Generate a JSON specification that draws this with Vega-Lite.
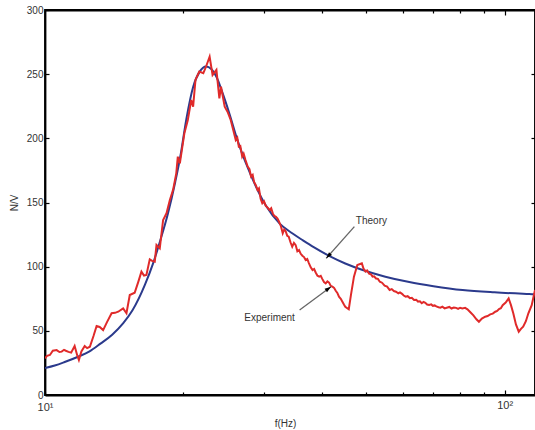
{
  "$schema": "https://vega.github.io/schema/vega-lite/v6.json",
  "autosize": {"type": "none"},
  "width": 490,
  "height": 385,
  "padding": {"left": 45, "top": 10, "right": 0, "bottom": 35},
  "background": "white",
  "config": {
    "view": {"stroke": "black", "strokeWidth": 1.8},
    "font": "Liberation Sans",
    "axis": {
      "domainColor": "black",
      "domainWidth": 1.8,
      "tickColor": "black",
      "tickWidth": 1.2,
      "grid": false,
      "labelFont": "Liberation Sans",
      "labelFontSize": 10,
      "labelColor": "#333333",
      "titleFont": "Liberation Sans",
      "titleFontSize": 10,
      "titleFontWeight": "normal",
      "titleColor": "#333333"
    }
  },
  "datasets": {
    "theory": [
      {"f": 10, "v": 21}, {"f": 10.5, "v": 23}, {"f": 11, "v": 25.5}, {"f": 11.8, "v": 29.8},
      {"f": 12.5, "v": 34}, {"f": 13.2, "v": 40}, {"f": 14, "v": 47}, {"f": 14.8, "v": 56},
      {"f": 15.5, "v": 66}, {"f": 16.5, "v": 86}, {"f": 17.2, "v": 103}, {"f": 17.8, "v": 120},
      {"f": 18.5, "v": 141}, {"f": 19.2, "v": 166}, {"f": 19.7, "v": 186}, {"f": 20.3, "v": 215},
      {"f": 21, "v": 240}, {"f": 21.7, "v": 252}, {"f": 22.4, "v": 256}, {"f": 23, "v": 254},
      {"f": 23.6, "v": 248}, {"f": 24.3, "v": 236}, {"f": 25.2, "v": 219}, {"f": 26.2, "v": 199},
      {"f": 27.4, "v": 180}, {"f": 28.8, "v": 162}, {"f": 30.3, "v": 147}, {"f": 32.4, "v": 133.5},
      {"f": 34.5, "v": 126}, {"f": 36.4, "v": 120.5}, {"f": 38.5, "v": 115}, {"f": 41.6, "v": 108.2},
      {"f": 45, "v": 102.5}, {"f": 49.1, "v": 97.4}, {"f": 55, "v": 92.2}, {"f": 62, "v": 88},
      {"f": 70, "v": 84.8}, {"f": 81, "v": 81.8}, {"f": 95, "v": 80}, {"f": 113, "v": 78.7},
      {"f": 116.4, "v": 78.5}
    ],
    "experiment": [
      {"f": 10.0, "v": 28.6}, {"f": 10.1, "v": 30.5}, {"f": 10.25, "v": 31.2}, {"f": 10.4, "v": 34.5},
      {"f": 10.6, "v": 35}, {"f": 10.75, "v": 33.5}, {"f": 10.87, "v": 33.8}, {"f": 11.0, "v": 35.2},
      {"f": 11.1, "v": 34.5}, {"f": 11.25, "v": 33.6}, {"f": 11.4, "v": 33}, {"f": 11.6, "v": 38.2},
      {"f": 11.75, "v": 31}, {"f": 11.85, "v": 27.3}, {"f": 12.0, "v": 34}, {"f": 12.2, "v": 38.2},
      {"f": 12.35, "v": 36.5}, {"f": 12.52, "v": 37.6}, {"f": 12.75, "v": 46}, {"f": 12.95, "v": 53.8},
      {"f": 13.15, "v": 53}, {"f": 13.38, "v": 50.6}, {"f": 13.65, "v": 57}, {"f": 13.96, "v": 63.7},
      {"f": 14.2, "v": 64}, {"f": 14.43, "v": 64.9}, {"f": 14.79, "v": 67.5}, {"f": 15.04, "v": 63.7},
      {"f": 15.29, "v": 77.9}, {"f": 15.67, "v": 79.7}, {"f": 15.95, "v": 88}, {"f": 16.21, "v": 96.1},
      {"f": 16.42, "v": 93}, {"f": 16.62, "v": 93.5}, {"f": 16.9, "v": 105.7}, {"f": 17.1, "v": 104.5},
      {"f": 17.33, "v": 103.9}, {"f": 17.48, "v": 116.9}, {"f": 17.77, "v": 114.3}, {"f": 18.07, "v": 136.4},
      {"f": 18.38, "v": 141.6}, {"f": 18.69, "v": 152}, {"f": 19.0, "v": 160}, {"f": 19.3, "v": 172.7},
      {"f": 19.45, "v": 185.7}, {"f": 19.65, "v": 180.5}, {"f": 20.1, "v": 203.9}, {"f": 20.45, "v": 214.3},
      {"f": 20.8, "v": 229.9}, {"f": 21.0, "v": 224.7}, {"f": 21.25, "v": 245.5}, {"f": 21.66, "v": 252},
      {"f": 22.1, "v": 250.7}, {"f": 22.4, "v": 255.8}, {"f": 22.81, "v": 263.6}, {"f": 23.15, "v": 249.4},
      {"f": 23.6, "v": 253.3}, {"f": 23.95, "v": 231.2}, {"f": 24.15, "v": 240.2}, {"f": 24.6, "v": 224.7},
      {"f": 24.95, "v": 220.8}, {"f": 25.35, "v": 214.3}, {"f": 25.7, "v": 206}, {"f": 26.0, "v": 198.7},
      {"f": 26.2, "v": 200.5}, {"f": 26.4, "v": 193.5}, {"f": 26.6, "v": 194}, {"f": 26.85, "v": 185.7},
      {"f": 27.05, "v": 188}, {"f": 27.3, "v": 183.1}, {"f": 27.6, "v": 178}, {"f": 27.85, "v": 176},
      {"f": 28.07, "v": 170.1}, {"f": 28.3, "v": 171.5}, {"f": 28.5, "v": 166}, {"f": 28.75, "v": 163.5},
      {"f": 29.0, "v": 159.7}, {"f": 29.2, "v": 161}, {"f": 29.45, "v": 153}, {"f": 29.7, "v": 149.4},
      {"f": 29.95, "v": 151}, {"f": 30.2, "v": 147.5}, {"f": 30.5, "v": 146}, {"f": 30.8, "v": 144.2},
      {"f": 31.05, "v": 145.5}, {"f": 31.3, "v": 141.5}, {"f": 31.55, "v": 139.5}, {"f": 31.8, "v": 138.9},
      {"f": 32.05, "v": 137.5}, {"f": 32.3, "v": 135}, {"f": 32.6, "v": 131.5}, {"f": 32.9, "v": 126},
      {"f": 33.15, "v": 129}, {"f": 33.4, "v": 127.5}, {"f": 33.65, "v": 124}, {"f": 33.9, "v": 123.4},
      {"f": 34.2, "v": 119}, {"f": 34.5, "v": 115.6}, {"f": 34.8, "v": 118.5}, {"f": 35.1, "v": 116.8},
      {"f": 35.4, "v": 112}, {"f": 35.7, "v": 113}, {"f": 36.0, "v": 110}, {"f": 36.3, "v": 108.5},
      {"f": 36.6, "v": 107.5}, {"f": 36.9, "v": 105.2}, {"f": 37.2, "v": 106}, {"f": 37.5, "v": 102.8},
      {"f": 37.85, "v": 99.5}, {"f": 38.2, "v": 97.4}, {"f": 38.5, "v": 98.2}, {"f": 38.8, "v": 95.5},
      {"f": 39.15, "v": 93}, {"f": 39.5, "v": 92.2}, {"f": 39.8, "v": 92.8}, {"f": 40.1, "v": 90.5},
      {"f": 40.45, "v": 88}, {"f": 40.8, "v": 87}, {"f": 41.15, "v": 88.5}, {"f": 41.5, "v": 87.6},
      {"f": 41.85, "v": 85}, {"f": 42.2, "v": 84.4}, {"f": 42.55, "v": 83.5}, {"f": 42.9, "v": 81.2},
      {"f": 43.25, "v": 79.5}, {"f": 43.6, "v": 76.6}, {"f": 44.0, "v": 75}, {"f": 44.3, "v": 73},
      {"f": 44.7, "v": 70.5}, {"f": 45.0, "v": 68.8}, {"f": 45.8, "v": 66.8}, {"f": 46.3, "v": 78},
      {"f": 47.0, "v": 92.2}, {"f": 47.8, "v": 101.3}, {"f": 48.9, "v": 102.6}, {"f": 49.3, "v": 98.5},
      {"f": 49.8, "v": 96.1}, {"f": 50.2, "v": 97}, {"f": 50.7, "v": 94.5}, {"f": 51.2, "v": 94},
      {"f": 51.6, "v": 92.2}, {"f": 52.0, "v": 92.5}, {"f": 52.5, "v": 90.8}, {"f": 53.0, "v": 90.5},
      {"f": 53.5, "v": 88.3}, {"f": 54.1, "v": 87.5}, {"f": 54.8, "v": 85.2}, {"f": 55.5, "v": 84.5},
      {"f": 56.2, "v": 81.8}, {"f": 56.8, "v": 82.5}, {"f": 57.4, "v": 81}, {"f": 58.0, "v": 80.5},
      {"f": 58.7, "v": 79.3}, {"f": 59.2, "v": 80}, {"f": 59.8, "v": 78.8}, {"f": 60.3, "v": 77.5},
      {"f": 60.9, "v": 76.6}, {"f": 61.5, "v": 77}, {"f": 62.2, "v": 75.5}, {"f": 62.8, "v": 75.8},
      {"f": 63.5, "v": 74}, {"f": 64.2, "v": 74.2}, {"f": 64.8, "v": 72.8}, {"f": 65.4, "v": 73},
      {"f": 66.0, "v": 71.5}, {"f": 66.6, "v": 72.5}, {"f": 67.2, "v": 71.8}, {"f": 67.8, "v": 70.5},
      {"f": 68.5, "v": 70.1}, {"f": 69.2, "v": 70.6}, {"f": 69.8, "v": 69.5}, {"f": 70.4, "v": 69.8},
      {"f": 71.0, "v": 69}, {"f": 71.8, "v": 68.4}, {"f": 72.5, "v": 68}, {"f": 73.2, "v": 68.8},
      {"f": 74.0, "v": 67.5}, {"f": 74.8, "v": 68}, {"f": 75.8, "v": 68.6}, {"f": 76.6, "v": 67.4},
      {"f": 77.5, "v": 68.2}, {"f": 78.4, "v": 67.9}, {"f": 79.2, "v": 67.1}, {"f": 80.0, "v": 68},
      {"f": 80.9, "v": 67.5}, {"f": 82.0, "v": 67.9}, {"f": 83.0, "v": 66.8}, {"f": 84.2, "v": 64.5},
      {"f": 85.5, "v": 62}, {"f": 86.8, "v": 59}, {"f": 87.9, "v": 57.1}, {"f": 89.2, "v": 59.5},
      {"f": 90.7, "v": 61}, {"f": 91.8, "v": 61.5}, {"f": 93.0, "v": 62.8}, {"f": 94.2, "v": 63.4},
      {"f": 95.4, "v": 64.9}, {"f": 96.3, "v": 65.5}, {"f": 97.2, "v": 67}, {"f": 98.1, "v": 67.6},
      {"f": 99.0, "v": 70}, {"f": 100.5, "v": 72}, {"f": 102.0, "v": 75.3}, {"f": 103.2, "v": 70},
      {"f": 104.4, "v": 63.7}, {"f": 105.8, "v": 55}, {"f": 107.3, "v": 49.3}, {"f": 108.5, "v": 51.5},
      {"f": 109.7, "v": 53.2}, {"f": 111.2, "v": 57.5}, {"f": 112.6, "v": 63.7}, {"f": 114.5, "v": 70},
      {"f": 116.4, "v": 81.8}
    ],
    "arrows": [
      {"label": "Theory", "f": 47.1, "v": 131.2, "f2": 40.9, "v2": 106.5, "angle": 222},
      {"label": "Experiment", "f": 35.8, "v": 66.2, "f2": 41.9, "v2": 84.4, "angle": 54}
    ],
    "labels": [
      {"label": "Theory", "f": 51.3, "v": 135.6},
      {"label": "Experiment", "f": 30.8, "v": 59.8}
    ]
  },
  "resolve": {"axis": {"x": "independent", "y": "independent"}},
  "layer": [
    {
      "data": {"name": "theory"},
      "mark": {"type": "line", "color": "#2b3a8c", "strokeWidth": 2, "interpolate": "monotone", "clip": true},
      "encoding": {
        "x": {
          "field": "f", "type": "quantitative",
          "scale": {"type": "log", "domain": [10, 116.4], "nice": false},
          "axis": {
            "orient": "bottom", "title": "f(Hz)", "titlePadding": 6, "titleX": 240,
            "values": [10, 20, 30, 40, 50, 60, 70, 80, 90, 100],
            "labelExpr": "datum.value == 10 ? '10¹' : datum.value == 100 ? '10²' : ''",
            "tickSize": {"condition": {"test": "datum.value == 100", "value": -5}, "value": -3},
            "labelPadding": 9, "labelFlush": false, "labelFontSize": 11
          }
        },
        "y": {
          "field": "v", "type": "quantitative",
          "scale": {"domain": [0, 300], "nice": false},
          "axis": {
            "orient": "left", "title": "N/V", "titlePadding": 7,
            "values": [0, 50, 100, 150, 200, 250, 300],
            "tickSize": -4, "labelPadding": 6
          }
        }
      }
    },
    {
      "data": {"name": "experiment"},
      "mark": {"type": "line", "color": "#e02a2a", "strokeWidth": 2, "clip": true},
      "encoding": {
        "x": {
          "field": "f", "type": "quantitative",
          "axis": {
            "orient": "top", "title": null, "labels": false,
            "values": [20, 30, 40, 50, 60, 70, 80, 90, 100],
            "tickSize": {"condition": {"test": "datum.value == 100", "value": -5}, "value": -3}
          }
        },
        "y": {
          "field": "v", "type": "quantitative",
          "axis": {
            "orient": "right", "title": null, "labels": false,
            "values": [50, 100, 150, 200, 250], "tickSize": -4
          }
        }
      }
    },
    {
      "data": {"name": "arrows"},
      "mark": {"type": "rule", "color": "#666666", "strokeWidth": 1.3},
      "encoding": {
        "x": {"field": "f", "type": "quantitative", "axis": null},
        "y": {"field": "v", "type": "quantitative", "axis": null},
        "x2": {"field": "f2"},
        "y2": {"field": "v2"}
      }
    },
    {
      "data": {"name": "arrows"},
      "mark": {"type": "point", "shape": "M0,0L-0.45,1.4L0.45,1.4Z", "filled": true, "color": "black", "opacity": 1, "size": 85},
      "encoding": {
        "x": {"field": "f2", "type": "quantitative", "axis": null},
        "y": {"field": "v2", "type": "quantitative", "axis": null},
        "angle": {"field": "angle", "type": "quantitative", "scale": null}
      }
    },
    {
      "data": {"name": "labels"},
      "mark": {"type": "text", "font": "Liberation Sans", "fontSize": 10, "color": "#333333"},
      "encoding": {
        "x": {"field": "f", "type": "quantitative", "axis": null},
        "y": {"field": "v", "type": "quantitative", "axis": null},
        "text": {"field": "label"}
      }
    }
  ]
}
